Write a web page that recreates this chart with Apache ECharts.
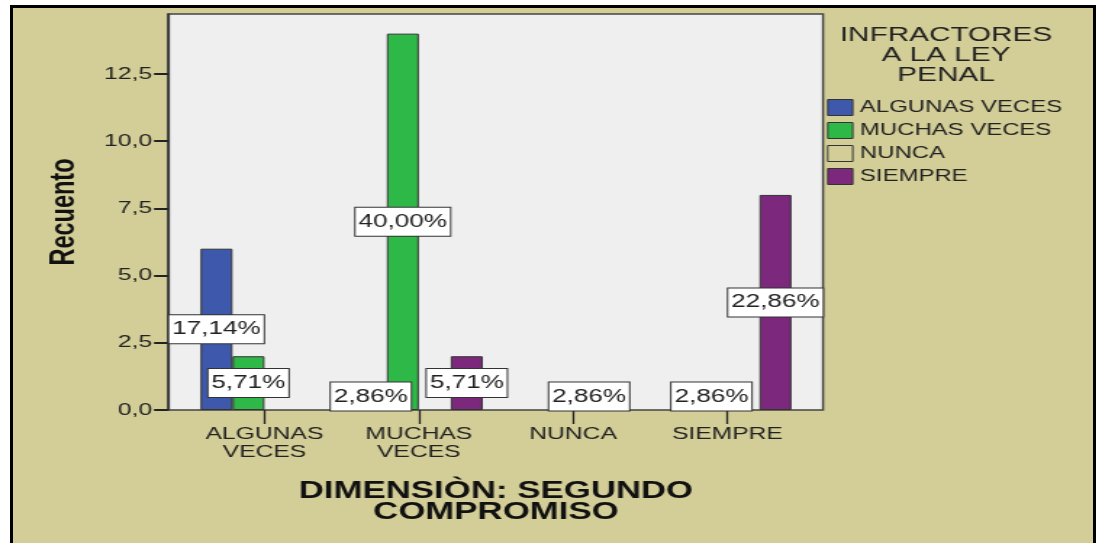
<!DOCTYPE html>
<html><head><meta charset="utf-8">
<script src="https://cdn.jsdelivr.net/npm/echarts@6/dist/echarts.min.js"></script>
<style>
html,body{margin:0;padding:0;background:#fff;width:1099px;height:543px;overflow:hidden;}
#frame{position:absolute;left:10px;top:5px;width:1080px;height:545px;border:3px solid #000;border-bottom:none;background:#d3ce97;}
#chart{position:absolute;left:0;top:0;width:758px;height:543px;transform:scaleX(1.45);transform-origin:0 0;}
</style></head><body>
<div id="frame"></div><div id="chart"></div>
<script>
// ---- data ----
const categories = ['ALGUNAS\nVECES', 'MUCHAS\nVECES', 'NUNCA', 'SIEMPRE'];
const seriesNames = ['ALGUNAS VECES', 'MUCHAS VECES', 'NUNCA', 'SIEMPRE'];
const algunasVeces = [6, 1, 0, 0];
const muchasVeces  = [2, 14, 0, 1];
const nunca        = [0, 0, 1, 0];
const siempre      = [0, 2, 0, 8];
const yTickValues = [0, 2.5, 5, 7.5, 10, 12.5];
const yMax = 14.73;
const legendTitle = 'INFRACTORES\nA LA LEY\nPENAL';
const xTitle = 'DIMENSIÒN: SEGUNDO\nCOMPROMISO';
const yTitle = 'Recuento';

const allSeries = [algunasVeces, muchasVeces, nunca, siempre];
const colors = ['#3e58ac', '#2eb848', '#d3ce97', '#7c287d'];
const total = allSeries.reduce((s, a) => s + a.reduce((p, v) => p + v, 0), 0);
const S = 1.45; // horizontal stretch applied by CSS
const FONT = '"Liberation Sans", Arial, sans-serif';
const fmt = (v, d) => v.toFixed(d).replace('.', ',');

const chart = echarts.init(document.getElementById('chart'), null, {renderer: 'canvas'});
const gridA = {left: 168 / S, right: 758 - 823 / S, top: 14, bottom: 133};
const gridB = {left: 187.3 / S, right: 758 - 804.6 / S, top: 14, bottom: 133};

const option = {
  backgroundColor: 'transparent',
  animation: false,
  title: {
    text: legendTitle, left: 946 / S, top: 25, textAlign: 'center', padding: 0,
    textStyle: {fontFamily: FONT, fontSize: 20.5, fontWeight: 'normal', color: '#222', lineHeight: 20}
  },
  legend: {
    orient: 'vertical', left: 827 / S, top: 99, padding: 0,
    itemWidth: 25 / S, itemHeight: 16, itemGap: 6, icon: 'rect',
    data: seriesNames,
    textStyle: {fontFamily: FONT, fontSize: 16.5, color: '#222'},
    itemStyle: {borderColor: '#333', borderWidth: 1}
  },
  grid: [
    Object.assign({show: true, backgroundColor: '#efefef', borderColor: '#444', borderWidth: 1.5}, gridA),
    Object.assign({show: false}, gridB)
  ],
  xAxis: [
    {gridIndex: 0, type: 'value', show: false, min: 0, max: 1},
    {
      gridIndex: 1, type: 'category', data: categories,
      axisLine: {show: false},
      axisTick: {show: true, alignWithLabel: true, length: 14, lineStyle: {color: '#222', width: 1.3}},
      axisLabel: {fontFamily: FONT, fontSize: 17, color: '#222', lineHeight: 18, margin: 15, interval: 0},
      name: xTitle, nameLocation: 'middle', nameGap: 71,
      nameTextStyle: {fontFamily: FONT, fontSize: 24, fontWeight: 'bold', color: '#111', lineHeight: 21}
    }
  ],
  yAxis: [
    {
      gridIndex: 0, type: 'value', min: 0, max: yMax,
      splitLine: {show: false},
      axisLine: {show: true, lineStyle: {color: '#333', width: 1.3}},
      axisTick: {show: true, length: 14 / S, customValues: yTickValues, lineStyle: {color: '#222', width: 2}},
      axisLabel: {
        fontFamily: FONT, fontSize: 17, color: '#222', margin: 11, customValues: yTickValues,
        formatter: v => fmt(v, 1)
      },
      name: yTitle, nameLocation: 'middle', nameGap: 59, nameRotate: 90,
      nameTextStyle: {fontFamily: FONT, fontSize: 23.5, fontWeight: 'bold', color: '#111'}
    },
    {gridIndex: 1, type: 'value', show: false, min: 0, max: yMax}
  ],
  series: allSeries.map((arr, i) => ({
    name: seriesNames[i], type: 'bar', xAxisIndex: 1, yAxisIndex: 1,
    barWidth: 32 / S, barGap: '0%',
    data: arr.map(v => (v === 0 ? '-' : v)),
    itemStyle: {color: colors[i], borderColor: '#333', borderWidth: 1},
    label: {
      show: true, position: 'inside',
      formatter: p => fmt(p.value / total * 100, 2) + '%',
      fontFamily: FONT, fontSize: 18, color: '#222',
      backgroundColor: '#fff', borderColor: '#333', borderWidth: 1, padding: [5, 2]
    },
    z: 3
  }))
};
chart.setOption(option);
</script>
</body></html>
